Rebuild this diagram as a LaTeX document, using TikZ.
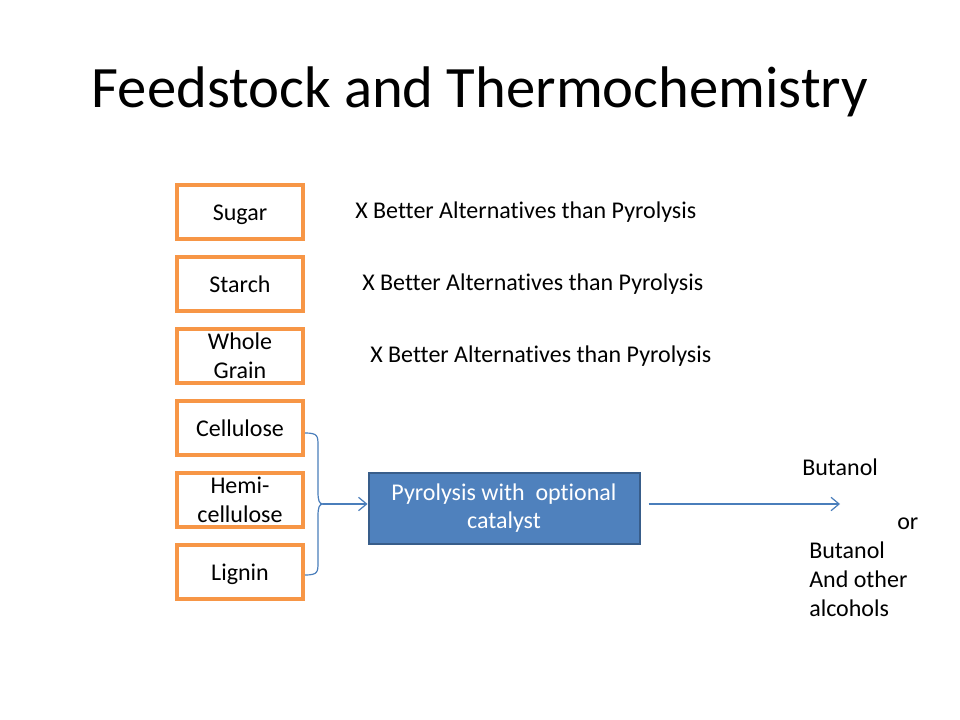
\documentclass[tikz,border=0pt]{standalone}
\usepackage{fontspec}
\setmainfont[Ligatures=NoCommon]{Carlito}
\usetikzlibrary{arrows.meta}
\definecolor{boxorange}{RGB}{247,150,70}
\definecolor{boxblue}{RGB}{79,129,189}
\definecolor{boxblueline}{RGB}{56,93,138}
\definecolor{linkblue}{RGB}{74,126,187}
\begin{document}
\begin{tikzpicture}[x=0.75pt,y=-0.75pt,
  feed/.style={draw=boxorange,line width=2.3pt,minimum width=126*0.75pt,minimum height=54*0.75pt,align=center,font=\fontsize{18}{21.6}\selectfont,inner sep=0pt},
  oneline/.style={text height=12.6pt,text depth=0pt},
  proc/.style={draw=boxblueline,line width=1.5pt,fill=boxblue,text=white,minimum width=271*0.75pt,minimum height=71*0.75pt,align=center,font=\fontsize{18}{21.6}\selectfont,inner sep=0pt},
  note/.style={font=\fontsize{18}{21.6}\selectfont,inner sep=0pt},
  link/.style={draw=linkblue,line width=0.9pt},
  arr/.style={link,-{Straight Barb[length=6pt,width=10pt]}}]
\path[use as bounding box,fill=white] (0,0) rectangle (960,720);
\node[font=\fontsize{44}{50}\selectfont,inner sep=0pt] (title) at (480,92) {Feedstock and Thermochemistry};
\node[feed,oneline] (sugar) at (240,212) {Sugar};
\node[feed,oneline] (starch) at (240,284) {Starch};
\node[feed] (grain) at (240,356) {Whole\\Grain};
\node[feed,oneline] (cell) at (240,428) {Cellulose};
\node[feed] (hemi) at (240,500) {Hemi-\\cellulose};
\node[feed,oneline] (lig) at (240,572) {Lignin};
\node[note,anchor=west] (x1) at (355,212) {X Better Alternatives than Pyrolysis};
\node[note,anchor=west] (x2) at (362,284) {X Better Alternatives than Pyrolysis};
\node[note,anchor=west] (x3) at (370,356) {X Better Alternatives than Pyrolysis};
\node[proc] (pyro) at (504,508) {Pyrolysis with \ optional\\catalyst};
\coordinate (btop) at (305,433);
\coordinate (bbot) at (305,575);
\coordinate (tip) at (323,504);
\draw[link] (btop) .. controls (318,433) and (318,436) .. (318,446) -- (318,492) .. controls (318,500) and (319,504) .. (tip)
  .. controls (319,504) and (318,508) .. (318,516) -- (318,562) .. controls (318,572) and (318,575) .. (bbot);
\draw[arr] (tip) -- (pyro.west |- tip);
\coordinate (aend) at (840,504);
\draw[arr] (pyro.east |- aend) ++(8,0) -- (aend);
\node[note,anchor=west] (but) at (802,467) {Butanol};
\node[note,anchor=west] (or) at (897,524) {or};
\node[note,anchor=north west,align=left] (alc) at (809,542) {Butanol\\And other\\alcohols};
\end{tikzpicture}
\end{document}
